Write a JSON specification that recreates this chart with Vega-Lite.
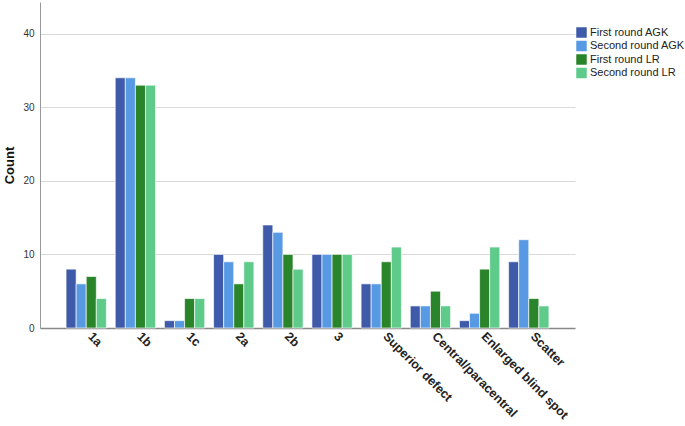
{
  "$schema": "https://vega.github.io/schema/vega-lite/v6.json",
  "width": 535,
  "height": 326,
  "autosize": "none",
  "padding": {"left": 40, "top": 2, "right": 110, "bottom": 98},
  "background": "white",
  "config": {
    "font": "Liberation Sans",
    "view": {"stroke": null}
  },
  "data": {
    "values": [
      {"cat": "1a", "series": "First round AGK", "count": 8},
      {"cat": "1a", "series": "Second round AGK", "count": 6},
      {"cat": "1a", "series": "First round LR", "count": 7},
      {"cat": "1a", "series": "Second round LR", "count": 4},
      {"cat": "1b", "series": "First round AGK", "count": 34},
      {"cat": "1b", "series": "Second round AGK", "count": 34},
      {"cat": "1b", "series": "First round LR", "count": 33},
      {"cat": "1b", "series": "Second round LR", "count": 33},
      {"cat": "1c", "series": "First round AGK", "count": 1},
      {"cat": "1c", "series": "Second round AGK", "count": 1},
      {"cat": "1c", "series": "First round LR", "count": 4},
      {"cat": "1c", "series": "Second round LR", "count": 4},
      {"cat": "2a", "series": "First round AGK", "count": 10},
      {"cat": "2a", "series": "Second round AGK", "count": 9},
      {"cat": "2a", "series": "First round LR", "count": 6},
      {"cat": "2a", "series": "Second round LR", "count": 9},
      {"cat": "2b", "series": "First round AGK", "count": 14},
      {"cat": "2b", "series": "Second round AGK", "count": 13},
      {"cat": "2b", "series": "First round LR", "count": 10},
      {"cat": "2b", "series": "Second round LR", "count": 8},
      {"cat": "3", "series": "First round AGK", "count": 10},
      {"cat": "3", "series": "Second round AGK", "count": 10},
      {"cat": "3", "series": "First round LR", "count": 10},
      {"cat": "3", "series": "Second round LR", "count": 10},
      {"cat": "Superior defect", "series": "First round AGK", "count": 6},
      {"cat": "Superior defect", "series": "Second round AGK", "count": 6},
      {"cat": "Superior defect", "series": "First round LR", "count": 9},
      {"cat": "Superior defect", "series": "Second round LR", "count": 11},
      {"cat": "Central/paracentral", "series": "First round AGK", "count": 3},
      {"cat": "Central/paracentral", "series": "Second round AGK", "count": 3},
      {"cat": "Central/paracentral", "series": "First round LR", "count": 5},
      {"cat": "Central/paracentral", "series": "Second round LR", "count": 3},
      {"cat": "Enlarged blind spot", "series": "First round AGK", "count": 1},
      {"cat": "Enlarged blind spot", "series": "Second round AGK", "count": 2},
      {"cat": "Enlarged blind spot", "series": "First round LR", "count": 8},
      {"cat": "Enlarged blind spot", "series": "Second round LR", "count": 11},
      {"cat": "Scatter", "series": "First round AGK", "count": 9},
      {"cat": "Scatter", "series": "Second round AGK", "count": 12},
      {"cat": "Scatter", "series": "First round LR", "count": 4},
      {"cat": "Scatter", "series": "Second round LR", "count": 3}
    ]
  },
  "mark": {"type": "bar", "stroke": "white", "strokeWidth": 0.8, "strokeOpacity": 0.8},
  "encoding": {
    "x": {
      "field": "cat",
      "type": "nominal",
      "sort": null,
      "scale": {"paddingInner": 0.18, "paddingOuter": 0.53},
      "axis": {
        "title": null,
        "labelAngle": 45,
        "labelAlign": "left",
        "labelBaseline": "middle",
        "labelFontWeight": "bold",
        "labelFontSize": 12.5,
        "labelColor": "#222",
        "labelPadding": 6,
        "labelOffset": 4,
        "ticks": false,
        "domainColor": "#888",
        "domainWidth": 1.5,
        "grid": false
      }
    },
    "xOffset": {
      "field": "series",
      "type": "nominal",
      "sort": ["First round AGK", "Second round AGK", "First round LR", "Second round LR"],
      "scale": {"paddingInner": 0, "paddingOuter": 0}
    },
    "y": {
      "field": "count",
      "type": "quantitative",
      "scale": {"domain": [0, 44.3], "nice": false},
      "axis": {
        "title": "Count",
        "titleFontSize": 13,
        "titleFontWeight": "bold",
        "titleColor": "#111",
        "titlePadding": 6,
        "values": [0, 10, 20, 30, 40],
        "labelFontSize": 10,
        "labelColor": "#333",
        "labelPadding": 6,
        "ticks": false,
        "domainColor": "#999",
        "gridColor": "#d9d9d9",
        "grid": true
      }
    },
    "color": {
      "field": "series",
      "type": "nominal",
      "sort": ["First round AGK", "Second round AGK", "First round LR", "Second round LR"],
      "scale": {
        "domain": ["First round AGK", "Second round AGK", "First round LR", "Second round LR"],
        "range": ["#3e5aa9", "#5899e3", "#2a842a", "#5ecb8a"]
      },
      "legend": {
        "title": null,
        "orient": "none",
        "legendX": 536,
        "legendY": 25,
        "symbolType": "square",
        "symbolSize": 110,
        "symbolStrokeWidth": 0,
        "labelFontSize": 11,
        "labelColor": "#222",
        "rowPadding": 1.5,
        "labelOffset": 3
      }
    }
  }
}
